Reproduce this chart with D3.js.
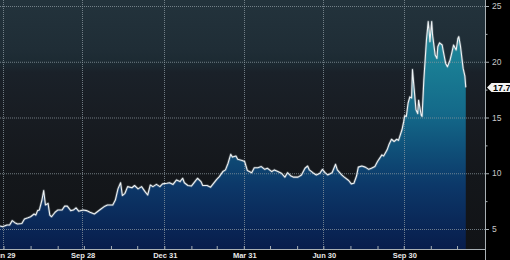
<!DOCTYPE html>
<html>
<head>
<meta charset="utf-8">
<script src="https://cdn.jsdelivr.net/npm/d3@7"></script>
<style>
  html, body { margin: 0; padding: 0; background: #000; overflow: hidden; }
  svg { display: block; }
</style>
</head>
<body>
<div id="chart"></div>
<script>
// --- Data ---
const dates = [
  "2007-06-26","2007-06-29","2007-07-04","2007-07-07","2007-07-10","2007-07-13","2007-07-16","2007-07-21",
  "2007-07-24","2007-07-28","2007-07-31","2007-08-04","2007-08-06","2007-08-08","2007-08-10","2007-08-13",
  "2007-08-15","2007-08-17","2007-08-20","2007-08-22","2007-08-24","2007-08-28","2007-08-31","2007-09-05",
  "2007-09-08","2007-09-11","2007-09-15","2007-09-18","2007-09-21","2007-09-24","2007-09-29","2007-10-03",
  "2007-10-07","2007-10-12","2007-10-18","2007-10-24","2007-10-27","2007-11-02","2007-11-05","2007-11-08",
  "2007-11-11","2007-11-13","2007-11-16","2007-11-19","2007-11-24","2007-11-27","2007-12-01","2007-12-05",
  "2007-12-09","2007-12-12","2007-12-15","2007-12-18","2007-12-22","2007-12-26","2007-12-29","2008-01-03",
  "2008-01-06","2008-01-10","2008-01-14","2008-01-18","2008-01-21","2008-01-23","2008-01-27","2008-01-31",
  "2008-02-04","2008-02-07","2008-02-11","2008-02-13","2008-02-18","2008-02-22","2008-02-24","2008-02-29",
  "2008-03-03","2008-03-07","2008-03-10","2008-03-13","2008-03-16","2008-03-18","2008-03-22","2008-03-24",
  "2008-03-29","2008-04-01","2008-04-04","2008-04-09","2008-04-12","2008-04-16","2008-04-20","2008-04-24",
  "2008-04-27","2008-05-02","2008-05-05","2008-05-09","2008-05-13","2008-05-17","2008-05-20","2008-05-24",
  "2008-05-27","2008-06-01","2008-06-05","2008-06-09","2008-06-12","2008-06-14","2008-06-18","2008-06-22",
  "2008-06-26","2008-06-29","2008-07-02","2008-07-05","2008-07-10","2008-07-14","2008-07-16","2008-07-21",
  "2008-07-24","2008-07-29","2008-08-01","2008-08-04","2008-08-07","2008-08-09","2008-08-13","2008-08-17",
  "2008-08-21","2008-08-24","2008-08-28","2008-08-31","2008-09-05","2008-09-07","2008-09-11","2008-09-13",
  "2008-09-16","2008-09-19","2008-09-22","2008-09-24","2008-09-28","2008-09-30","2008-10-01","2008-10-03",
  "2008-10-05","2008-10-07","2008-10-09","2008-10-10","2008-10-12","2008-10-14","2008-10-16","2008-10-17",
  "2008-10-20","2008-10-21","2008-10-23","2008-10-26","2008-10-28","2008-10-29","2008-10-30","2008-11-01",
  "2008-11-02","2008-11-05","2008-11-07","2008-11-08","2008-11-10","2008-11-13","2008-11-14","2008-11-17",
  "2008-11-19","2008-11-22","2008-11-24","2008-11-26","2008-11-29","2008-12-01","2008-12-02","2008-12-04",
  "2008-12-07","2008-12-09","2008-12-10"
];
const values = [
  5.27, 5.2, 5.36, 5.36, 5.75, 5.57, 5.45, 5.5,
  5.9, 6.0, 6.1, 6.35, 6.25, 6.65, 6.7, 7.6,
  8.45, 7.15, 7.3, 6.25, 6.1, 6.5, 6.7, 6.7,
  7.05, 7.05, 6.65, 6.7, 6.9, 6.6, 6.7, 6.65,
  6.5, 6.35, 6.7, 7.05, 7.15, 7.15, 7.6, 8.6,
  9.15, 8.0, 8.2, 8.8, 8.7, 8.9, 8.6, 8.8,
  8.35, 8.05, 8.95, 8.8, 9.0, 8.8, 9.05, 9.1,
  9.15, 9.0, 9.4, 9.25, 9.55, 9.15, 8.9, 8.85,
  9.25, 9.55, 9.25, 8.9, 8.9, 8.75, 8.95, 9.45,
  9.7, 10.15, 10.3, 10.9, 11.7, 11.45, 11.55, 11.25,
  11.15, 11.05, 10.25, 10.05, 10.5, 10.5, 10.6, 10.35,
  10.45, 10.15, 10.3, 10.15, 10.0, 9.65, 10.05, 9.75,
  9.65, 9.65, 9.85, 10.45, 10.65, 10.3, 10.05, 9.85,
  10.0, 10.35, 10.05, 9.85, 10.05, 10.8, 10.3, 9.85,
  9.65, 9.35, 9.05, 9.1, 9.75, 10.55, 10.65, 10.55,
  10.35, 10.45, 10.6, 11.05, 11.65, 11.55, 12.1, 12.55,
  13.05, 12.85, 13.05, 12.95, 13.9, 14.65, 15.15, 15.1,
  16.3, 16.85, 16.75, 19.3, 17.5, 15.7, 15.35, 16.55,
  15.2, 15.1, 18.35, 21.95, 23.6, 22.85, 21.8, 23.6,
  22.4, 20.6, 20.3, 21.35, 21.7, 21.5, 21.05, 19.85,
  19.55, 20.15, 20.8, 21.5, 21.05, 22.1, 22.25, 21.35,
  19.4, 18.7, 17.7
];
const quarterDates = ["2007-06-29", "2007-09-28", "2007-12-31", "2008-03-31", "2008-06-30", "2008-09-30"];
const quarterLabels = ["Jun 29", "Sep 28", "Dec 31", "Mar 31", "Jun 30", "Sep 30"];
const yTicks = [5, 10, 15, 20, 25];
const yMinorTicks = [7.5, 12.5, 17.5, 22.5];
const lastValue = 17.7;

const parse = d3.timeParse("%Y-%m-%d");
const data = dates.map((d, i) => ({ date: parse(d), value: values[i] }));

// --- Layout ---
const width = 510, height = 260;
const plotW = 485, plotH = 249;
const font = "'Liberation Sans', Arial, sans-serif";

const svg = d3.select("#chart").append("svg")
    .attr("width", width)
    .attr("height", height)
    .style("font-family", font);

svg.append("rect").attr("width", width).attr("height", height).attr("fill", "#000");

const defs = svg.append("defs");

const bg = defs.append("linearGradient")
    .attr("id", "bg")
    .attr("gradientUnits", "userSpaceOnUse")
    .attr("x1", 0).attr("y1", 0).attr("x2", 0).attr("y2", plotH);
[[0, "#23333c"], [0.2, "#1f2d36"], [0.25, "#1c2a32"], [0.29, "#1a2129"], [0.47, "#181c22"],
 [0.7, "#14171b"], [1, "#111316"]].forEach(([o, c]) => bg.append("stop").attr("offset", o).attr("stop-color", c));

const fill = defs.append("linearGradient")
    .attr("id", "fill")
    .attr("gradientUnits", "userSpaceOnUse")
    .attr("x1", 0).attr("y1", 0).attr("x2", 0).attr("y2", plotH);
[[0, "#2396a6"], [0.25, "#1a7f95"], [0.45, "#146a8a"], [0.6, "#0f5079"], [0.75, "#0c3768"],
 [1, "#081d4c"]].forEach(([o, c]) => fill.append("stop").attr("offset", o).attr("stop-color", c));

defs.append("clipPath").attr("id", "clip")
  .append("rect").attr("width", plotW).attr("height", plotH);

// --- Scales ---
const x = d3.scaleTime()
    .domain([parse("2007-06-26"), parse("2009-01-01")])
    .range([0, plotW]);

const y = d3.scaleLinear()
    .domain([5, 25])
    .range([229, 6]);

// background
svg.append("rect")
    .attr("width", plotW).attr("height", plotH)
    .attr("fill", "url(#bg)");

const g = svg.append("g").attr("clip-path", "url(#clip)");

// Area + line
const area = d3.area()
    .x(d => x(d.date))
    .y0(plotH)
    .y1(d => y(d.value));

const line = d3.line()
    .x(d => x(d.date))
    .y(d => y(d.value));

g.append("path")
    .datum(data)
    .attr("d", area)
    .attr("fill", "url(#fill)");

// Grid (dotted, over the area)
g.selectAll("line.hgrid")
    .data(yTicks)
    .enter().append("line")
    .attr("x1", 0).attr("x2", plotW)
    .attr("y1", d => y(d) + 0.5).attr("y2", d => y(d) + 0.5)
    .attr("stroke", "#8e9aa2")
    .attr("stroke-opacity", 0.75)
    .attr("stroke-dasharray", "1,1");

g.selectAll("line.vgrid")
    .data(quarterDates.map(parse))
    .enter().append("line")
    .attr("x1", d => Math.round(x(d)) + 0.5).attr("x2", d => Math.round(x(d)) + 0.5)
    .attr("y1", 0).attr("y2", plotH)
    .attr("stroke", "#8e9aa2")
    .attr("stroke-opacity", 0.75)
    .attr("stroke-dasharray", "1,1");

// soft glow under the line
g.append("path")
    .datum(data)
    .attr("d", line)
    .attr("fill", "none")
    .attr("stroke", "#9aa6ad")
    .attr("stroke-opacity", 0.35)
    .attr("stroke-width", 2.6)
    .attr("stroke-linejoin", "round");

g.append("path")
    .datum(data)
    .attr("d", line)
    .attr("fill", "none")
    .attr("stroke", "#eef2f4")
    .attr("stroke-width", 1.1)
    .attr("stroke-linejoin", "round");

// --- Axes ---
const monthEnds = d3.timeMonth.range(parse("2007-07-01"), parse("2009-01-01"))
    .map(m => d3.timeDay.offset(m, -1));

const xAxis = svg.append("g")
    .attr("transform", `translate(0,${plotH})`)
    .call(d3.axisTop(x).tickValues(monthEnds).tickSize(3).tickFormat(""));
xAxis.select(".domain").attr("stroke", "#a9b0b4").attr("d", `M0,0.5H${plotW}`);
xAxis.selectAll(".tick line").attr("stroke", "#a9b0b4");

svg.append("g")
    .selectAll("text")
    .data(quarterDates)
    .enter().append("text")
    .attr("x", d => x(parse(d)) + 1)
    .attr("y", 258)
    .attr("text-anchor", "middle")
    .attr("font-size", "7.5px")
    .attr("font-weight", "bold")
    .attr("fill", "#e8e8e8")
    .text((d, i) => quarterLabels[i]);

const yAxis = svg.append("g")
    .attr("transform", `translate(${plotW},0)`)
    .call(d3.axisRight(y).tickValues(yTicks).tickSize(4).tickPadding(3));
yAxis.select(".domain").attr("stroke", "#a9b0b4").attr("d", `M0.5,0V${height}`);
yAxis.selectAll(".tick line").attr("stroke", "#a9b0b4");
yAxis.selectAll(".tick text")
    .attr("fill", "#c8c8c8")
    .attr("font-size", "8.5px")
    .attr("font-family", font);

svg.append("g")
    .attr("transform", `translate(${plotW},0)`)
    .selectAll("line")
    .data(yMinorTicks)
    .enter().append("line")
    .attr("x1", 0).attr("x2", 2.5)
    .attr("y1", d => y(d) + 0.5).attr("y2", d => y(d) + 0.5)
    .attr("stroke", "#a9b0b4");

// Last value tag
const ly = y(lastValue);
svg.append("path")
    .attr("d", `M487,${ly} L491.5,${ly - 4.5} H512 V${ly + 4.5} H491.5 Z`)
    .attr("fill", "#f2f2f2");

svg.append("text")
    .attr("x", 493)
    .attr("y", ly + 3.2)
    .attr("font-size", "9px")
    .attr("font-weight", "bold")
    .attr("fill", "#000")
    .text(lastValue.toFixed(1));
</script>
</body>
</html>
